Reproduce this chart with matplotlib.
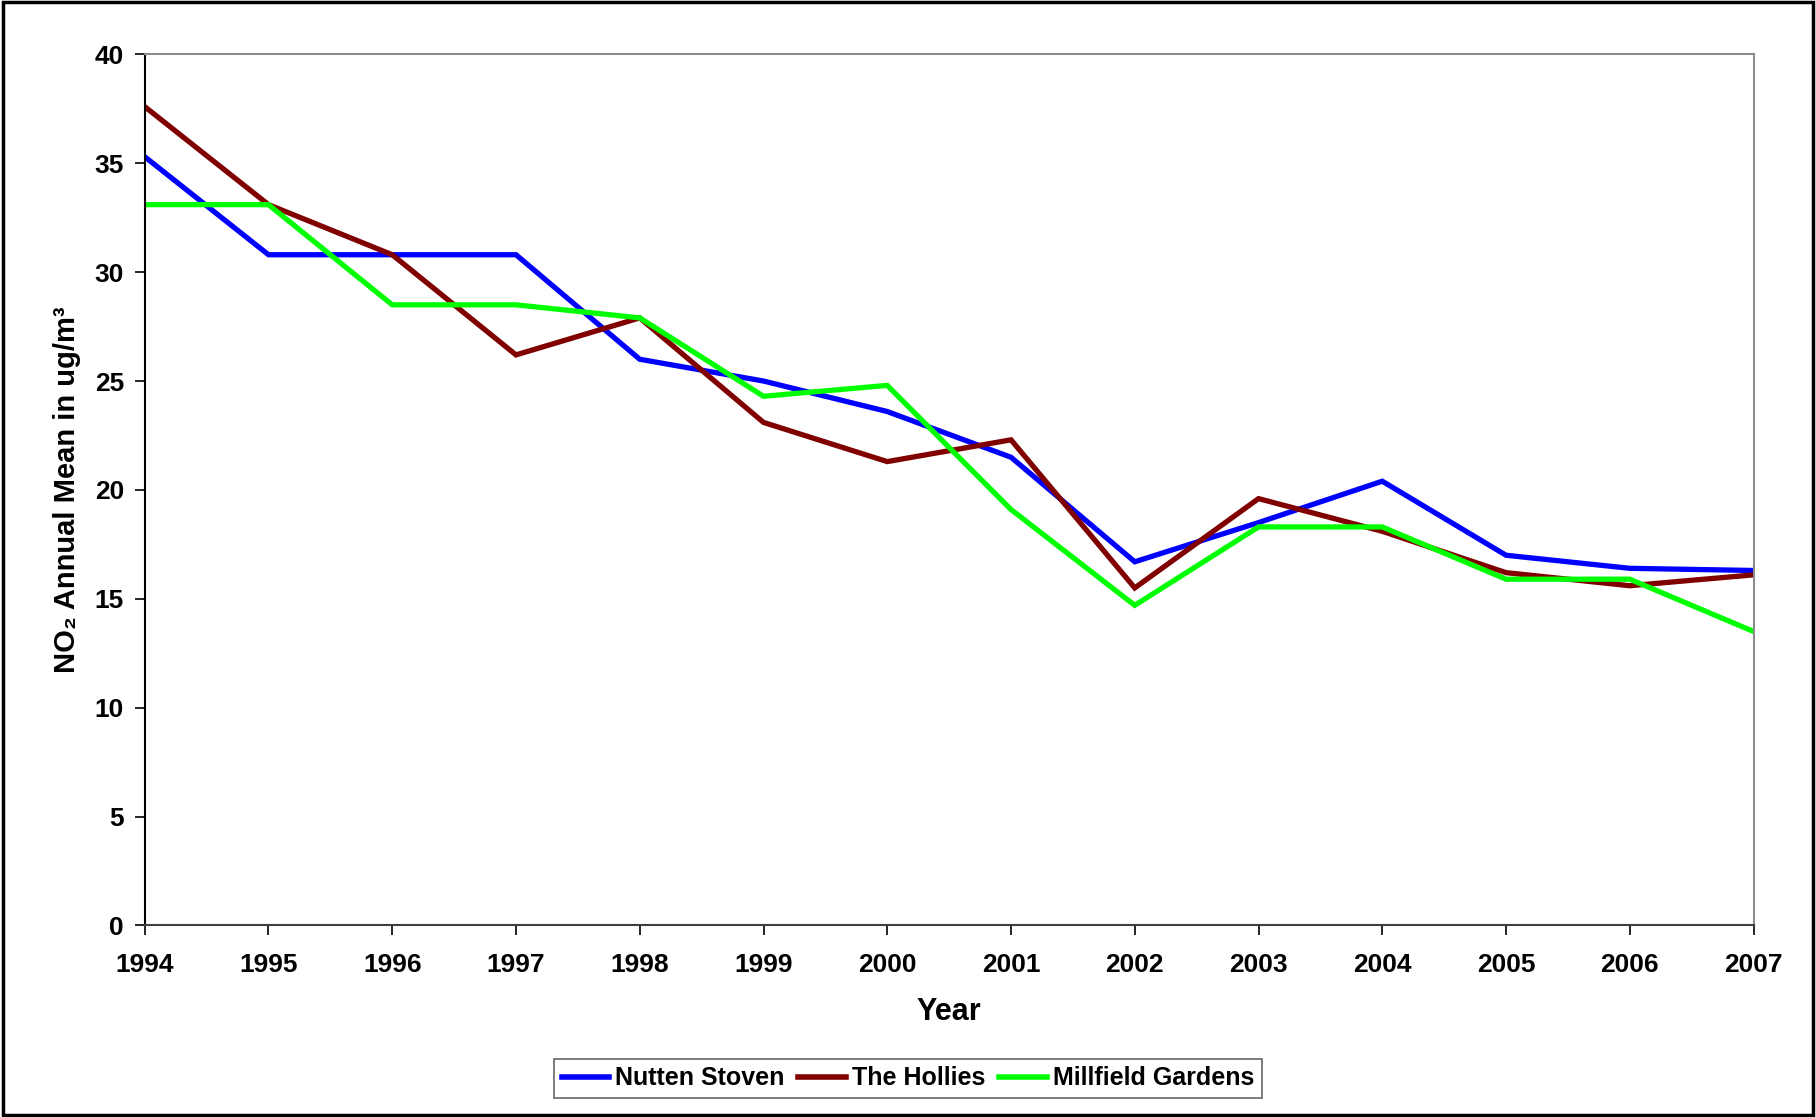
import matplotlib
matplotlib.use("Agg")
import matplotlib.pyplot as plt

plt.rcParams["font.family"] = ["Liberation Sans", "DejaVu Sans"]
plt.rcParams["font.weight"] = "bold"

years = list(range(1994, 2008))

nutten_stoven = [35.3, 30.8, 30.8, 30.8, 26.0, 25.0, 23.6, 21.5, 16.7, 18.5, 20.4, 17.0, 16.4, 16.3]
the_hollies = [37.6, 33.1, 30.8, 26.2, 27.9, 23.1, 21.3, 22.3, 15.5, 19.6, 18.1, 16.2, 15.6, 16.1]
millfield_gardens = [33.1, 33.1, 28.5, 28.5, 27.9, 24.3, 24.8, 19.1, 14.7, 18.3, 18.3, 15.9, 15.9, 13.5]

series = [
    ("Nutten Stoven", nutten_stoven, "#0000FF"),
    ("The Hollies", the_hollies, "#800000"),
    ("Millfield Gardens", millfield_gardens, "#00FF00"),
]

fig = plt.figure(figsize=(18.16, 11.17), dpi=100)
ax = fig.add_axes([0.0797, 0.1715, 0.8859, 0.7798])

for name, values, colour in series:
    ax.plot(years, values, color=colour, lw=3.8, label=name, solid_joinstyle="miter")

ax.set_xlim(1994, 2007)
ax.set_ylim(0, 40)
ax.set_xticks(years)
ax.set_yticks(range(0, 41, 5))
ax.tick_params(direction="out", length=7, width=1.2, labelsize=19)
ax.tick_params(axis="x", pad=13)
ax.tick_params(axis="y", pad=8)
for lab in ax.get_xticklabels() + ax.get_yticklabels():
    lab.set_fontweight("bold")

ax.spines["left"].set_color("black")
ax.spines["bottom"].set_color("#404040")
ax.spines["top"].set_color("#8c8c8c")
ax.spines["right"].set_color("#8c8c8c")
for s in ax.spines.values():
    s.set_linewidth(1.5)

ax.set_xlabel("Year", fontsize=22, fontweight="bold", labelpad=14)
ax.set_ylabel("NO\u2082 Annual Mean in ug/m\u00b3", fontsize=21,
              fontweight="bold", labelpad=10)

leg = fig.legend(loc="center", bbox_to_anchor=(0.5, 0.0345), ncol=3, fontsize=18,
                 frameon=True, fancybox=False, handlelength=1.9, handletextpad=0.25,
                 columnspacing=0.55, borderpad=0.3)
leg.get_frame().set_edgecolor("#404040")
leg.get_frame().set_linewidth(1.2)
for t in leg.get_texts():
    t.set_fontweight("bold")
for h in leg.get_lines():
    h.set_linewidth(4)

# outer border of the chart area
fig.patches.append(plt.Rectangle((0.0015, 0.002), 0.997, 0.996, transform=fig.transFigure,
                                 fill=False, edgecolor="black", linewidth=2.5))

fig.savefig("out.png", dpi=100)
